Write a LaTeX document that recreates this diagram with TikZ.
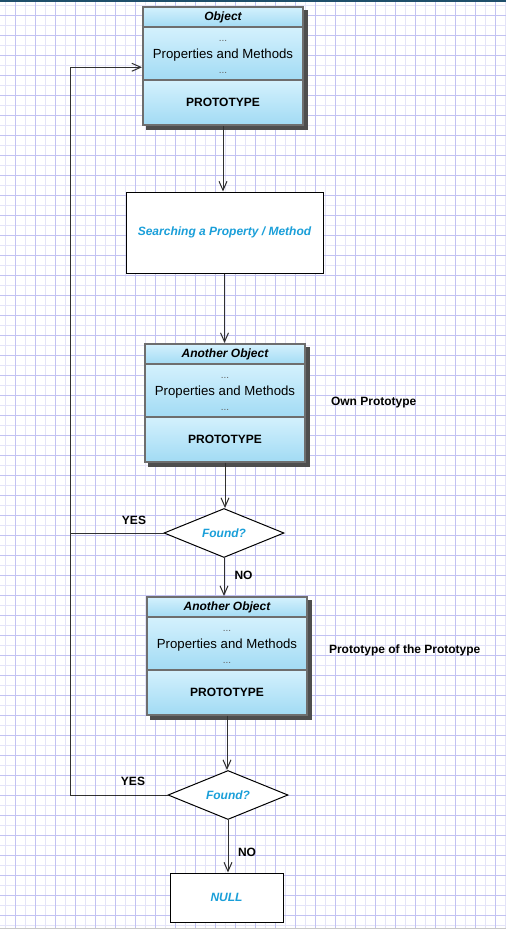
\documentclass[tikz,border=0pt]{standalone}
\usepackage{fontspec}
\setmainfont{Liberation Sans}
\usetikzlibrary{arrows.meta,backgrounds,calc,fit,shapes.geometric}
\definecolor{gridmajor}{HTML}{C2C2F2}
\definecolor{gridminor}{HTML}{E4E4F8}
\definecolor{boxtop}{HTML}{D4F1FD}
\definecolor{boxbot}{HTML}{A2DBF4}
\definecolor{boxline}{HTML}{6E6E6E}
\definecolor{shadowgray}{HTML}{4E4E4E}
\definecolor{findblue}{HTML}{1A9FD9}
\definecolor{dotgray}{HTML}{606060}
\definecolor{topbar}{HTML}{1F4F6B}
\definecolor{flowline}{HTML}{303030}
\newcommand{\gapdots}{{\fontsize{10}{10}\selectfont\color{dotgray}...}}
\tikzset{
  part/.style={draw=boxline, line width=2pt, top color=boxtop, bottom color=boxbot, minimum width=160pt, inner sep=0pt},
  head/.style={part, minimum height=20pt, font=\fontsize{12}{14}\selectfont\bfseries\itshape},
  props/.style={part, minimum height=53pt, align=center, font=\fontsize{13.2}{15}\selectfont},
  proto/.style={part, minimum height=45pt, font=\fontsize{12}{14}\selectfont\bfseries},
  objshadow/.style={fill=shadowgray, inner sep=0pt, xshift=4pt, yshift=-4pt},
  stepbox/.style={draw, line width=1pt, fill=white, inner sep=0pt, font=\fontsize{12}{14}\selectfont\bfseries\itshape, text=findblue},
  query/.style={diamond, draw, line width=1pt, fill=white, aspect=2.45, minimum width=120pt, minimum height=49pt, inner sep=0pt, font=\fontsize{12}{14}\selectfont\bfseries\itshape, text=findblue},
  answer/.style={font=\fontsize{12}{14}\selectfont\bfseries},
  flow/.style={draw=flowline, line width=1pt}
}
\begin{document}
\begin{tikzpicture}[x=1pt,y=-1pt,>={Straight Barb[length=9pt,width=8pt]}]
\useasboundingbox (0,0) rectangle (506,929);
\begin{pgfonlayer}{background}
\fill[white] (0,0) rectangle (506,929);
\foreach \g in {5,25,...,505} \draw[gridminor,line width=1pt] (\g,0) -- (\g,929);
\foreach \g in {5,25,...,925} \draw[gridminor,line width=1pt] (0,\g) -- (506,\g);
\foreach \g in {15,35,...,505} \draw[gridmajor,line width=1pt] (\g,0) -- (\g,929);
\foreach \g in {15,35,...,925} \draw[gridmajor,line width=1pt] (0,\g) -- (506,\g);
\fill[topbar] (0,0) rectangle (506,2);
\fill[black!22] (0,927.5) rectangle (506,929);
\end{pgfonlayer}

\node[head] (h1) at (223,17) {Object};
\node[props] (p1) at (223,53.5) {\rule{0pt}{7.5pt}\gapdots\\[1.5pt]Properties and Methods\\\gapdots};
\node[proto] (b1) at (223,102.5) {PROTOTYPE};

\node[stepbox, minimum width=197pt, minimum height=81pt] (srch) at (224.5,232.5) {Searching a Property / Method};

\node[head] (h2) at (225,354) {Another Object};
\node[props] (p2) at (225,390.5) {\rule{0pt}{7.5pt}\gapdots\\[1.5pt]Properties and Methods\\\gapdots};
\node[proto] (b2) at (225,439) {PROTOTYPE};
\node[answer, anchor=west] (own) at (327.5,403) {Own Prototype};

\node[query] (d1) at (224,533) {Found?};
\node[answer] (yes1) at (134,520) {YES};
\node[answer] (no1) at (243.5,575) {NO};

\node[head] (h3) at (227,607) {Another Object};
\node[props] (p3) at (227,643.5) {\rule{0pt}{7.5pt}\gapdots\\[1.5pt]Properties and Methods\\\gapdots};
\node[proto] (b3) at (227,692) {PROTOTYPE};
\node[answer, anchor=west] (protoproto) at (325.5,650) {Prototype of the Prototype};

\node[query] (d2) at (228,795) {Found?};
\node[answer] (yes2) at (133,781) {YES};
\node[answer] (no2) at (247,852) {NO};

\node[stepbox, minimum width=113pt, minimum height=49pt] (null) at (226.5,897.5) {NULL};

\begin{pgfonlayer}{background}
\node[objshadow, fit=(h1)(b1)] (s1) {};
\node[objshadow, fit=(h2)(b2)] (s2) {};
\node[objshadow, fit=(h3)(b3)] (s3) {};
\end{pgfonlayer}

\coordinate (back) at (70,533);
\draw[flow,->] (b1.south) -- (b1.south |- srch.north);
\draw[flow,->] (srch.south) -- (srch.south |- h2.north);
\draw[flow,->] (b2.south) -- (b2.south |- d1.north);
\draw[flow,->] (d1.south) -- (d1.south |- h3.north);
\draw[flow,->] (b3.south) -- (b3.south |- d2.north);
\draw[flow,->] (d2.south) -- (d2.south |- null.north);
\draw[flow,->] (d1.west) -- (back) |- ($(p1.south west)!0.25!(p1.north west)$);
\draw[flow] (d2.west) -| (back);
\end{tikzpicture}
\end{document}
